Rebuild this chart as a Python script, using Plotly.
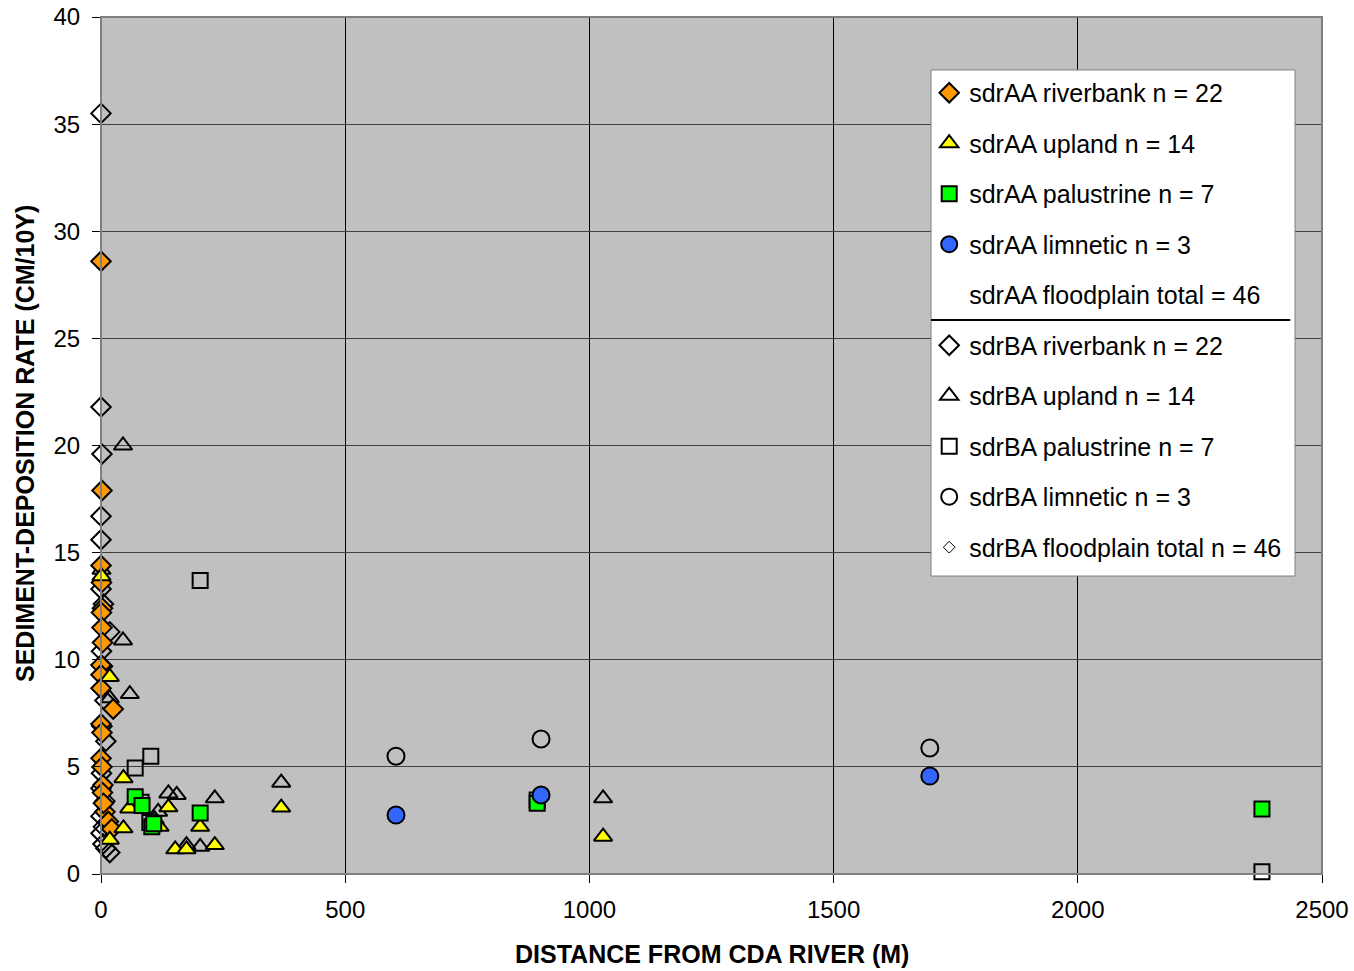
import plotly.graph_objects as go

# ---------------- data ----------------
# sdrAA (filled markers)
aa_riverbank_x = [0, 2, 0, 1, 3, 1, 2, 3, 0, 0, 0, 25, 0, 2, 0, 2, 4, 3, 8, 15, 22, 5]
aa_riverbank_y = [28.6, 17.9, 14.4, 13.6, 12.4, 12.2, 11.5, 10.8, 9.75, 9.3, 8.67, 7.7, 7.0, 6.6, 5.4, 5.0, 4.15, 3.8, 2.9, 2.45, 2.1, 3.3]

aa_upland_x = [369, 1028, 46, 58, 46, 138, 203, 152, 175, 233, 120, 18, 1, 18]
aa_upland_y = [3.1, 1.74, 4.47, 3.06, 2.13, 3.11, 2.2, 1.15, 1.15, 1.35, 2.2, 9.2, 13.9, 1.6]

aa_palustrine_x = [2377, 893, 203, 70, 84, 104, 108]
aa_palustrine_y = [3.03, 3.3, 2.85, 3.6, 3.2, 2.2, 2.35]

aa_limnetic_x = [604, 901, 1697]
aa_limnetic_y = [2.75, 3.69, 4.57]

# sdrBA (open markers)
ba_riverbank_x = [0, 0, 2, 0, 0, 0, 5, 18, 1, 3, 8, 10, 1, 8, 0, 0, 4, 18, 2, 0, 5, 10]
ba_riverbank_y = [35.5, 21.8, 19.6, 16.7, 15.6, 13.3, 12.6, 11.3, 10.4, 9.7, 8.1, 6.2, 4.7, 3.4, 2.7, 1.9, 1.4, 1.0, 6.9, 4.0, 2.2, 1.2]

ba_upland_x = [369, 1028, 45, 45, 59, 138, 155, 233, 117, 203, 175, 1, 18, 110]
ba_upland_y = [4.26, 3.53, 20.0, 10.9, 8.4, 3.76, 3.69, 3.53, 2.9, 1.27, 1.35, 14.2, 8.2, 2.55]

ba_palustrine_x = [2377, 203, 102, 70, 893, 100, 82]
ba_palustrine_y = [0.1, 13.7, 5.5, 4.95, 3.45, 2.4, 3.35]

ba_limnetic_x = [604, 901, 1697]
ba_limnetic_y = [5.5, 6.3, 5.88]

legend_names = [
    "sdrAA riverbank n = 22", "sdrAA upland n = 14", "sdrAA palustrine n = 7",
    "sdrAA limnetic n = 3", "sdrAA floodplain total = 46",
    "sdrBA riverbank n = 22", "sdrBA upland n = 14", "sdrBA palustrine n = 7",
    "sdrBA limnetic n = 3", "sdrBA floodplain total n = 46",
]

x_ticks = [0, 500, 1000, 1500, 2000, 2500]
y_ticks = [0, 5, 10, 15, 20, 25, 30, 35, 40]

x_title = "DISTANCE FROM CDA RIVER (M)"
y_title = "SEDIMENT-DEPOSITION RATE (CM/10Y)"

# ---------------- figure ----------------
FONT = "Liberation Sans, Arial, sans-serif"
fig = go.Figure()
CLEAR = "rgba(0,0,0,0)"


def add(x, y, name, symbol, fill, size, rank):
    fig.add_trace(go.Scatter(
        x=x, y=y, mode="markers", name=name, legendrank=rank,
        legendgroup=name, cliponaxis=False,
        marker=dict(symbol=symbol, color=fill, size=size,
                    line=dict(color="black", width=2)),
    ))


# open (BA) markers first, filled (AA) on top
add(ba_riverbank_x, ba_riverbank_y, legend_names[5], "diamond", CLEAR, 15, 6)
add(ba_upland_x, ba_upland_y, legend_names[6], "triangle-up", CLEAR, 16, 7)
add(ba_palustrine_x, ba_palustrine_y, legend_names[7], "square", CLEAR, 15, 8)
add(ba_limnetic_x, ba_limnetic_y, legend_names[8], "circle", CLEAR, 17, 9)
fig.add_trace(go.Scatter(x=[None], y=[None], mode="markers", name=legend_names[9],
                         legendrank=10, legendgroup=legend_names[9],
                         marker=dict(symbol="diamond", color="white", size=9,
                                     line=dict(color="black", width=1))))

add(aa_riverbank_x, aa_riverbank_y, legend_names[0], "diamond", "#FF9900", 15, 1)
add(aa_upland_x, aa_upland_y, legend_names[1], "triangle-up", "#FFFF00", 16, 2)
add(aa_palustrine_x, aa_palustrine_y, legend_names[2], "square", "#00FF00", 15, 3)
add(aa_limnetic_x, aa_limnetic_y, legend_names[3], "circle", "#3366FF", 17, 4)
fig.add_trace(go.Scatter(x=[None], y=[None], mode="markers", name=legend_names[4],
                         legendrank=5, legendgroup=legend_names[4],
                         marker=dict(symbol="circle", color=CLEAR, size=1,
                                     line=dict(color=CLEAR, width=0))))

# legend box (drawn as a shape so the separator line can sit on top of it)
LEG_X0, LEG_X1, LEG_Y0, LEG_Y1 = 0.6798, 0.9779, 0.3477, 0.9382
SEP_Y = 0.6464

fig.update_layout(
    width=1354, height=971,
    margin=dict(l=101, r=32, t=17, b=97, autoexpand=False),
    paper_bgcolor="white",
    plot_bgcolor="#C0C0C0",
    font=dict(family=FONT, size=24, color="black"),
    showlegend=True,
    legend=dict(
        x=LEG_X0 - 0.0015, y=LEG_Y1, xanchor="left", yanchor="top",
        bgcolor=CLEAR, borderwidth=0,
        font=dict(family=FONT, size=25, color="black"),
        tracegroupgap=15, itemwidth=30,
    ),
    xaxis=dict(
        range=[0, 2500], tickvals=x_ticks, ticktext=[str(v) for v in x_ticks],
        automargin=False, ticklabeloverflow="allow",
        showgrid=True, gridcolor="black", gridwidth=1,
        showline=True, linecolor="black", linewidth=1,
        ticks="outside", ticklen=8, tickcolor="black",
        zeroline=False, tickfont=dict(size=24), ticklabelstandoff=6,
    ),
    yaxis=dict(
        range=[0, 40], tickvals=y_ticks, ticktext=[str(v) for v in y_ticks],
        automargin=False, ticklabeloverflow="allow",
        showgrid=True, gridcolor="#404040", gridwidth=1,
        showline=True, linecolor="black", linewidth=1,
        ticks="outside", ticklen=8, tickcolor="black",
        zeroline=False, tickfont=dict(size=24), ticklabelstandoff=7,
    ),
    annotations=[
        dict(text=f"<b>{x_title}</b>", xref="paper", yref="paper",
             x=0.5, y=-0.0933, xanchor="center", yanchor="middle",
             showarrow=False, font=dict(family=FONT, size=25)),
        dict(text=f"<b>{y_title}</b>", xref="paper", yref="paper",
             x=-0.0622, y=0.5018, xanchor="center", yanchor="middle",
             textangle=-90, showarrow=False, font=dict(family=FONT, size=25)),
    ],
    shapes=[
        dict(type="rect", xref="paper", yref="paper", x0=0, x1=1, y0=0, y1=1,
             line=dict(color="#808080", width=2), fillcolor=CLEAR, layer="above"),
        dict(type="rect", xref="paper", yref="paper", x0=LEG_X0, x1=LEG_X1,
             y0=LEG_Y0, y1=LEG_Y1, line=dict(color="#808080", width=1),
             fillcolor="white", layer="above"),
        dict(type="line", xref="paper", yref="paper", x0=LEG_X0, x1=0.974,
             y0=SEP_Y, y1=SEP_Y, line=dict(color="black", width=2), layer="above"),
    ],
)

# remove the default 8px page margin so the figure fills the window exactly
fig.write_html(
    "out.html",
    config={"displayModeBar": False},
    post_script="document.body.style.margin='0';document.body.style.overflow='hidden';",
)
